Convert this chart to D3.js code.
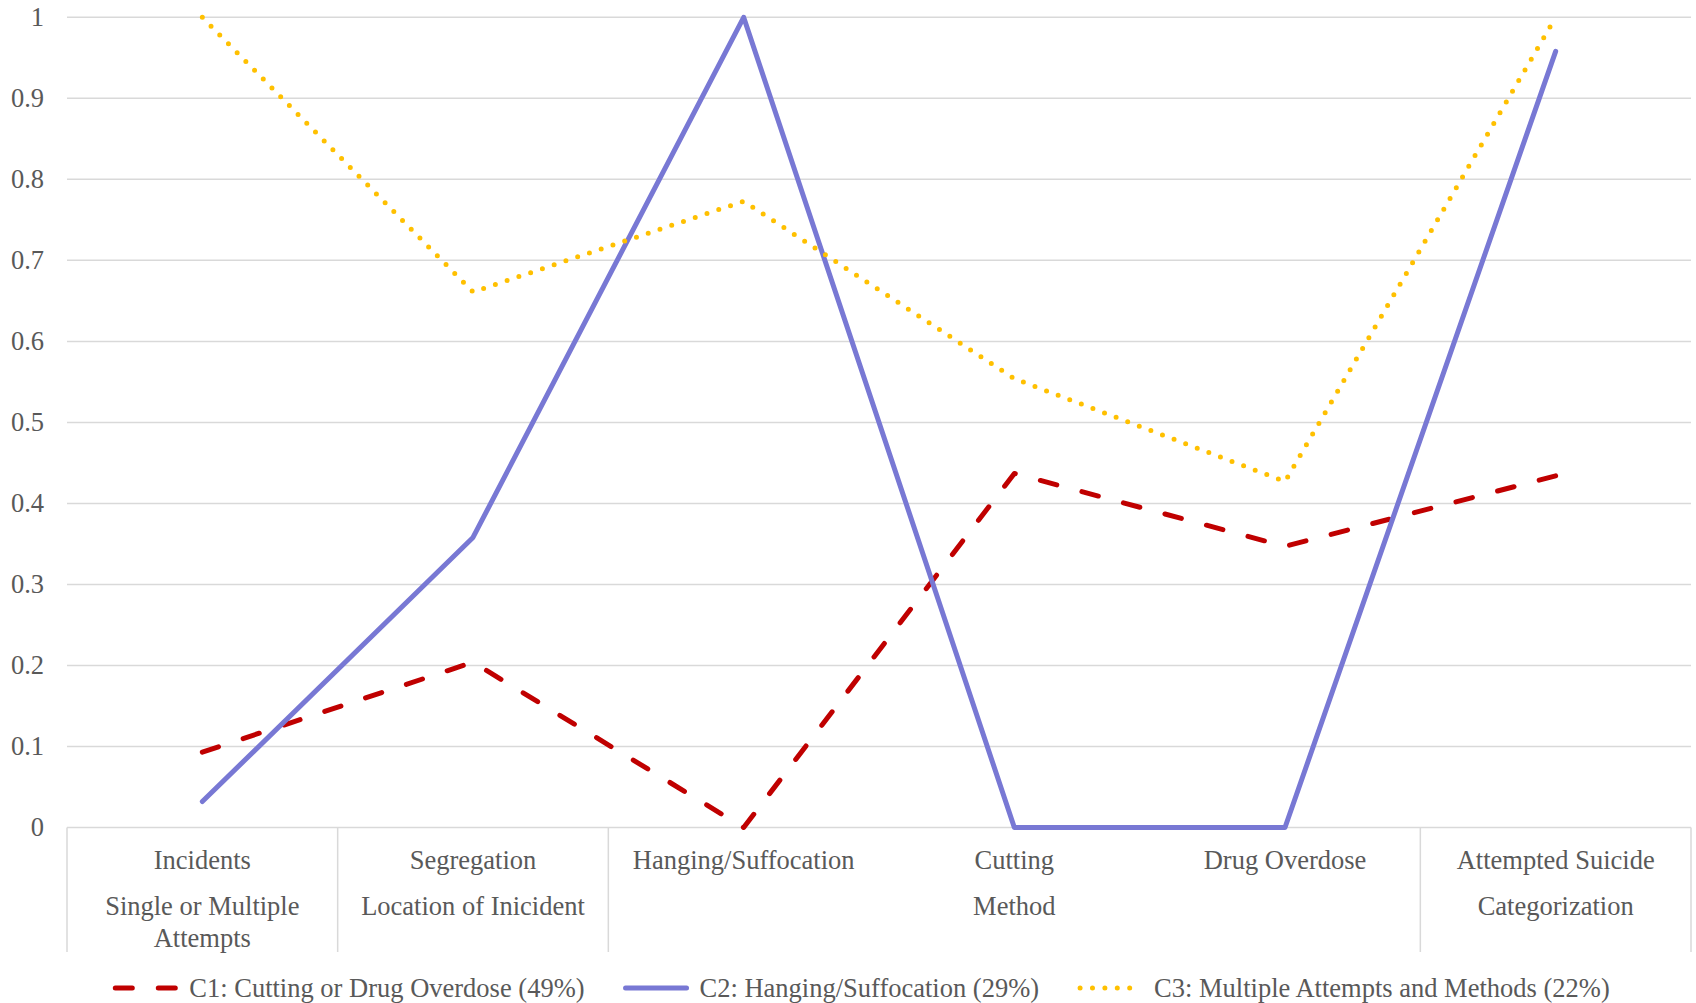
<!DOCTYPE html>
<html>
<head>
<meta charset="utf-8">
<script src="https://cdn.jsdelivr.net/npm/d3@7"></script>
<style>
  html, body { margin: 0; padding: 0; background: #fff; }
  svg { display: block; }
  text { font-family: "Liberation Serif", "Times New Roman", serif; fill: #595959; }
</style>
</head>
<body>
<svg id="chart" width="1696" height="1003"></svg>
<script>
// Profile values per cluster, one point per category
const categories = ["Incidents", "Segregation", "Hanging/Suffocation", "Cutting", "Drug Overdose", "Attempted Suicide"];
const groupLabels = [["Single or Multiple", "Attempts"], ["Location of Inicident"], ["Method"], ["Categorization"]];
const groupSpans = [1, 1, 3, 1];

const seriesNames = [
  "C1: Cutting or Drug Overdose (49%)",
  "C2: Hanging/Suffocation (29%)",
  "C3: Multiple Attempts and Methods (22%)"
];
const c1 = [0.093, 0.204, 0.0, 0.437, 0.347, 0.434];
const c2 = [0.032, 0.358, 1.0, 0.0, 0.0, 0.958];
const c3 = [1.0, 0.661, 0.773, 0.554, 0.427, 1.0];
const yTicks = [0, 0.1, 0.2, 0.3, 0.4, 0.5, 0.6, 0.7, 0.8, 0.9, 1];

const styles = [
  { color: "#C00000", width: 5, dash: "17 26", cap: "round" },
  { color: "#7878D4", width: 5, dash: null, cap: "round" },
  { color: "#FFC000", width: 5, dash: "0 12.4", cap: "round" }
];
const seriesValues = [c1, c2, c3];

const svg = d3.select("#chart");
const plotLeft = 67, plotRight = 1691, plotTop = 17.3, plotBottom = 827.5;
const gridColor = "#D9D9D9";
const fontSize = 26.5;

const x = d3.scaleBand().domain(categories).range([plotLeft, plotRight]).paddingInner(0).paddingOuter(0);
const cx = c => x(c) + x.bandwidth() / 2;
const y = d3.scaleLinear().domain([0, 1]).range([plotBottom, plotTop]);

// Horizontal gridlines
svg.append("g").selectAll("line").data(yTicks).join("line")
  .attr("x1", plotLeft).attr("x2", plotRight)
  .attr("y1", d => y(d)).attr("y2", d => y(d))
  .attr("stroke", gridColor).attr("stroke-width", 1.5);

// Value axis labels
const yAxis = d3.axisLeft(y).tickValues(yTicks).tickSize(0).tickPadding(23)
  .tickFormat(d => String(+d.toFixed(1)));
const yg = svg.append("g").attr("transform", `translate(${plotLeft},0)`).call(yAxis);
yg.select(".domain").remove();
yg.selectAll("text").style("font-size", fontSize + "px").attr("fill", "#595959")
  .style("font-family", "Liberation Serif");

// Category axis: group separators
const sepBottom = 952;
let idx = 0;
const boundaries = [plotLeft];
groupSpans.forEach(s => { idx += s; boundaries.push(idx < categories.length ? x(categories[idx]) : plotRight); });
svg.append("g").selectAll("line").data(boundaries).join("line")
  .attr("x1", d => d).attr("x2", d => d)
  .attr("y1", plotBottom).attr("y2", sepBottom)
  .attr("stroke", gridColor).attr("stroke-width", 1.5);

// First-level category labels
svg.append("g").selectAll("text").data(categories).join("text")
  .attr("x", d => cx(d)).attr("y", 860).attr("dy", "0.35em")
  .attr("text-anchor", "middle").style("font-size", fontSize + "px")
  .text(d => d);

// Second-level group labels
let start = 0;
const groupG = svg.append("g");
groupLabels.forEach((lines, i) => {
  const first = categories[start];
  const last = categories[start + groupSpans[i] - 1];
  const mid = (x(first) + x(last) + x.bandwidth()) / 2;
  lines.forEach((ln, j) => {
    groupG.append("text")
      .attr("x", mid).attr("y", 906 + j * 32).attr("dy", "0.35em")
      .attr("text-anchor", "middle").style("font-size", fontSize + "px")
      .text(ln);
  });
  start += groupSpans[i];
});

// Series lines
const line = d3.line().x((d, i) => cx(categories[i])).y(d => y(d));
seriesValues.forEach((vals, i) => {
  const st = styles[i];
  const p = svg.append("path").datum(vals)
    .attr("d", line).attr("fill", "none")
    .attr("stroke", st.color).attr("stroke-width", st.width)
    .attr("stroke-linecap", st.cap).attr("stroke-linejoin", "round");
  if (st.dash) p.attr("stroke-dasharray", st.dash);
});

// Legend
const legendY = 988;
const sampleW = 67, sampleGap = 10, itemGap = 38;
const legend = svg.append("g");
const items = seriesNames.map((name, i) => {
  const g = legend.append("g");
  const t = g.append("text").attr("x", sampleW + sampleGap).attr("y", legendY).attr("dy", "0.35em")
    .style("font-size", fontSize + "px").text(name);
  const st = styles[i];
  const l = g.append("line").attr("x1", 3).attr("x2", sampleW - 3)
    .attr("y1", legendY).attr("y2", legendY)
    .attr("stroke", st.color).attr("stroke-width", st.width).attr("stroke-linecap", st.cap);
  if (st.dash) l.attr("stroke-dasharray", st.dash);
  return { g, w: sampleW + sampleGap + t.node().getComputedTextLength() };
});
const total = d3.sum(items, d => d.w) + itemGap * (items.length - 1);
let lx = 861 - total / 2;
items.forEach(it => { it.g.attr("transform", `translate(${lx},0)`); lx += it.w + itemGap; });
</script>
</body>
</html>
